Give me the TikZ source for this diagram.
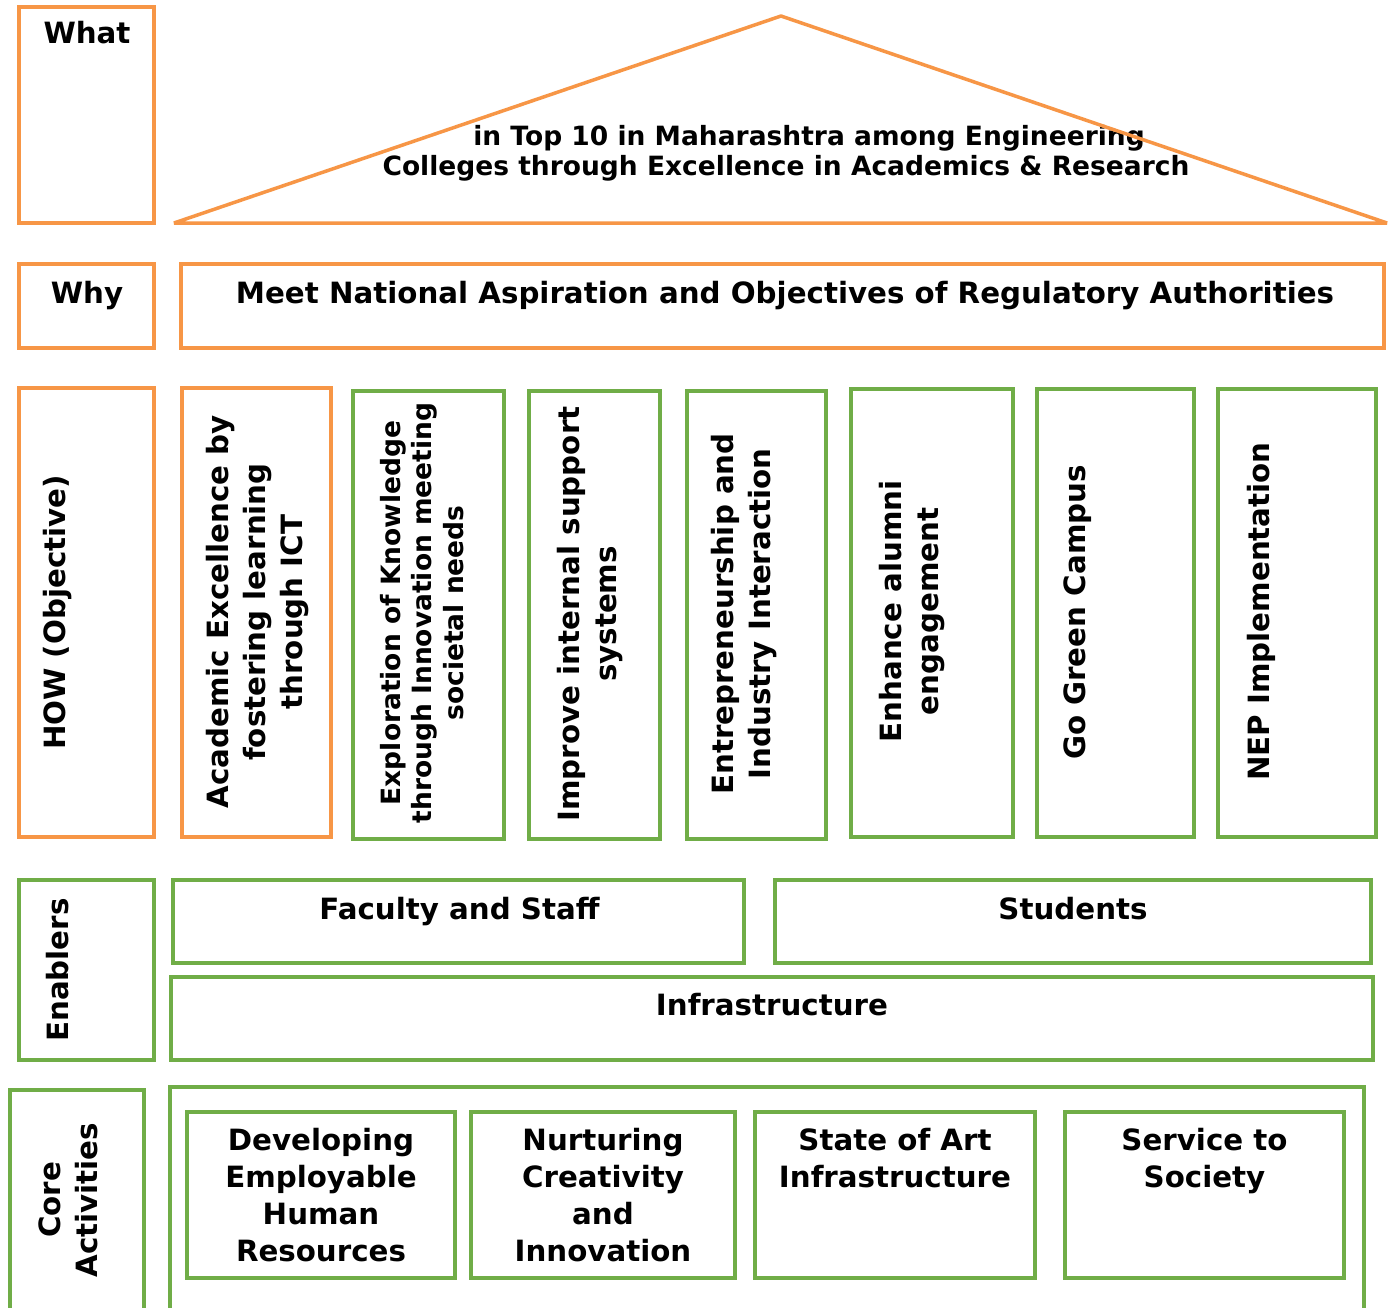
\documentclass[tikz,border=0pt]{standalone}
\usepackage{fontspec}
\setmainfont{DejaVu Sans}
\definecolor{orangeC}{HTML}{F79646}
\definecolor{greenC}{HTML}{70AD47}
\begin{document}
\begin{tikzpicture}[x=1pt,y=-1pt,
  basebox/.style={line width=3.5pt, anchor=north west, inner sep=0pt, outer sep=0pt},
  obox/.style={basebox, draw=orangeC},
  gbox/.style={basebox, draw=greenC},
  txt/.style={font=\fontsize{29.3}{37}\selectfont\bfseries, align=center, inner sep=0pt},
  stxt/.style={font=\fontsize{26.5}{31.7}\selectfont\bfseries, align=center, inner sep=0pt},
  vtxt/.style={txt, rotate=90},
  svtxt/.style={stxt, rotate=90}]
\path[use as bounding box, fill=white] (0,0) rectangle (1389,1307);

% ---- What ----
\node[obox, minimum width=135pt, minimum height=216pt] (what) at (19,7) {};
\node[txt, anchor=base] (whatT) at (87,43) {What};
\coordinate (tl) at (174,223);
\coordinate (tt) at (781,16);
\coordinate (tr) at (1387,223);
\node[stxt, anchor=base] (goal1) at (809,145) {in Top 10 in Maharashtra among Engineering};
\node[stxt, anchor=base] (goal2) at (786,175) {Colleges through Excellence in Academics \& Research};
\draw[orangeC, line width=3.5pt, line join=bevel] (tl) -- (tt) -- (tr) -- cycle;

% ---- Why ----
\node[obox, minimum width=135pt, minimum height=84pt] (why) at (19,264) {};
\node[txt, anchor=base] (whyT) at (87,303) {Why};
\node[obox, minimum width=1203pt, minimum height=84pt] (meet) at (181,264) {};
\node[txt, anchor=base] (meetT) at (785,303) {Meet National Aspiration and Objectives of Regulatory Authorities};

% ---- How ----
\node[obox, minimum width=135pt, minimum height=449pt] (how) at (19,388) {};
\node[vtxt] (howT) at (58,612.5) {HOW (Objective)};
\node[obox, minimum width=149pt, minimum height=449pt] (c1) at (182,388) {};
\node[vtxt] (c1T) at (258,612) {Academic Excellence by\\fostering learning\\through ICT};
\node[gbox, minimum width=151pt, minimum height=448pt] (c2) at (353,391) {};
\node[svtxt] (c2T) at (422,613) {Exploration of Knowledge\\through Innovation meeting\\societal needs};
\node[gbox, minimum width=131pt, minimum height=448pt] (c3) at (529,391) {};
\node[vtxt] (c3T) at (590,614) {Improve internal support\\systems};
\node[gbox, minimum width=139pt, minimum height=448pt] (c4) at (687,391) {};
\node[vtxt] (c4T) at (744,614) {Entrepreneurship and\\Industry Interaction};
\node[gbox, minimum width=162pt, minimum height=448pt] (c5) at (851,389) {};
\node[vtxt] (c5T) at (912,611.5) {Enhance alumni\\engagement};
\node[gbox, minimum width=157pt, minimum height=448pt] (c6) at (1037,389) {};
\node[vtxt] (c6T) at (1078,612.5) {Go Green Campus};
\node[gbox, minimum width=158pt, minimum height=448pt] (c7) at (1218,389) {};
\node[vtxt] (c7T) at (1261,611.5) {NEP Implementation};

% ---- Enablers ----
\node[gbox, minimum width=135pt, minimum height=180pt] (en) at (19,880) {};
\node[vtxt] (enT) at (58,970) {Enablers};
\node[gbox, minimum width=571pt, minimum height=83pt] (fac) at (173,880) {};
\node[txt, anchor=base] (facT) at (459.5,919) {Faculty and Staff};
\node[gbox, minimum width=596pt, minimum height=83pt] (stu) at (775,880) {};
\node[txt, anchor=base] (stuT) at (1073,919) {Students};
\node[gbox, minimum width=1202pt, minimum height=83pt] (inf) at (171,977) {};
\node[txt, anchor=base] (infT) at (772,1015) {Infrastructure};

% ---- Core activities ----
\node[gbox, minimum width=134pt, minimum height=260pt] (core) at (10,1090) {};
\node[vtxt] (coreT) at (68,1200) {Core\\Activities};
\node[gbox, minimum width=1194pt, minimum height=260pt] (outer) at (170,1087) {};
\node[gbox, minimum width=268pt, minimum height=166pt] (dev) at (187,1112) {};
\node[txt, anchor=base] (devT) at (321,1261) {Developing\\Employable\\Human\\Resources};
\node[gbox, minimum width=264pt, minimum height=166pt] (nur) at (471,1112) {};
\node[txt, anchor=base] (nurT) at (603,1261) {Nurturing\\Creativity\\and\\Innovation};
\node[gbox, minimum width=280pt, minimum height=166pt] (sta) at (755,1112) {};
\node[txt, anchor=base] (staT) at (895,1187) {State of Art\\Infrastructure};
\node[gbox, minimum width=279pt, minimum height=166pt] (ser) at (1065,1112) {};
\node[txt, anchor=base] (serT) at (1204.5,1187) {Service to\\Society};
\end{tikzpicture}
\end{document}
